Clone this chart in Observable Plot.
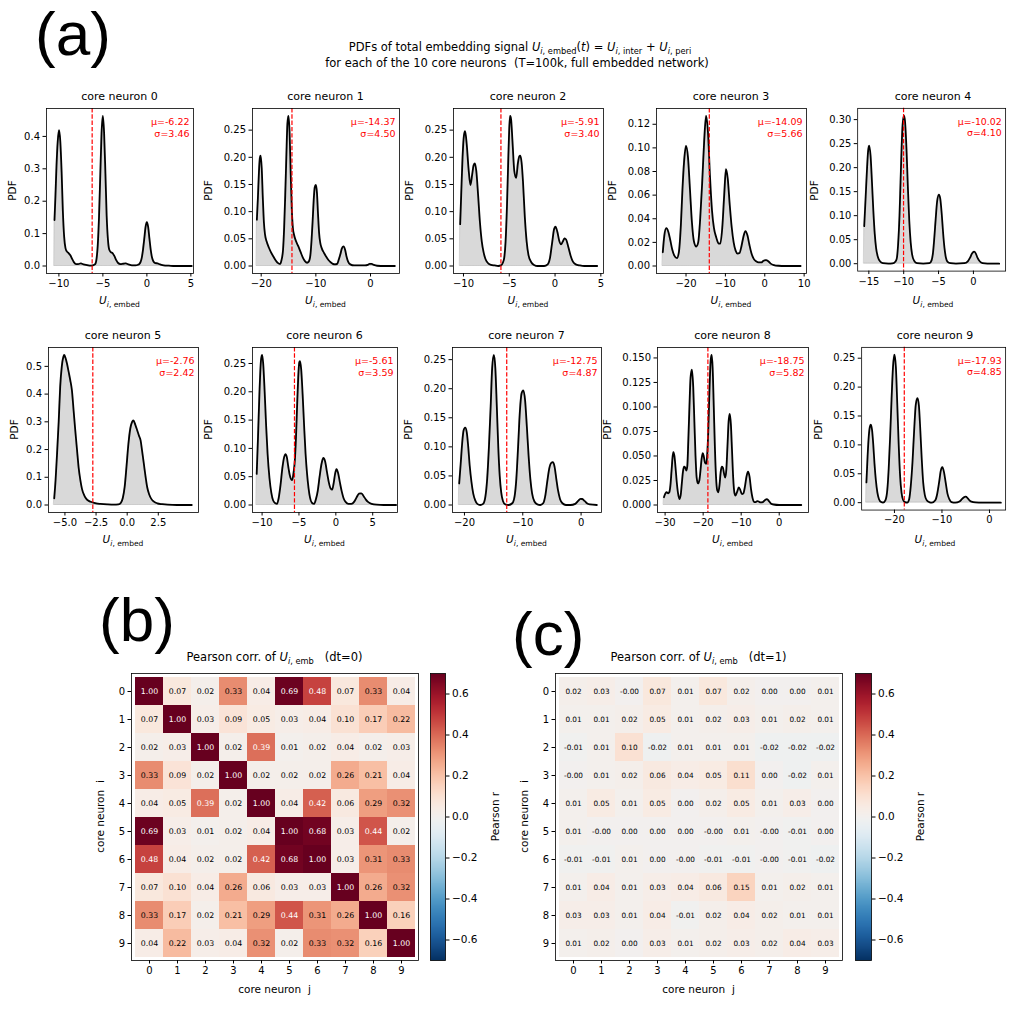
<!DOCTYPE html>
<html><head><meta charset="utf-8">
<script src="https://cdn.jsdelivr.net/npm/d3@7"></script>
<script src="https://cdn.jsdelivr.net/npm/@observablehq/plot@0.6"></script>
<style>
body{margin:0;background:#fff;}
#page{position:relative;width:1015px;height:1020px;overflow:hidden;font-family:"DejaVu Sans",sans-serif;background:#fff;}
#page > div.p{position:absolute;}
#page svg text{font-family:"DejaVu Sans",sans-serif;}
#overlay{position:absolute;left:0;top:0;pointer-events:none;overflow:visible;}
</style></head><body><div id="page"></div>
<script>
// ---------------- DATA ----------------
const neurons = [0,1,2,3,4,5,6,7,8,9];
const means  = [-6.22, -14.37, -5.91, -14.09, -10.02, -2.76, -5.61, -12.75, -18.75, -17.93];
const sigmas = [3.46, 4.50, 3.40, 5.66, 4.10, 2.42, 3.59, 4.87, 5.82, 4.85];

const pdf0 = [[-10.5,.142],[-10.4,.21],[-10.27,.31],[-10.13,.385],[-9.98,.419],[-9.84,.385],[-9.69,.29],[-9.55,.17],[-9.4,.09],[-9.25,.055],[-9.1,.045],[-8.9,.04],[-8.7,.033],[-8.5,.022],[-8.3,.012],[-8.05,.006],[-7.8,.006],[-7.5,.008],[-7.2,.005],[-6.8,.003],[-6.4,.001],[-6.15,.002],[-5.87,.006],[-5.72,.022],[-5.58,.065],[-5.44,.15],[-5.29,.285],[-5.15,.41],[-5.0,.463],[-4.86,.41],[-4.71,.285],[-4.57,.155],[-4.42,.08],[-4.27,.05],[-4.1,.043],[-3.9,.04],[-3.7,.031],[-3.5,.019],[-3.3,.01],[-3.0,.006],[-2.7,.007],[-2.4,.008],[-2.1,.005],[-1.7,.002],[-1.3,.002],[-1.0,.004],[-0.87,.006],[-0.72,.012],[-0.58,.025],[-0.44,.05],[-0.29,.085],[-0.15,.12],[0,.135],[0.15,.12],[0.29,.085],[0.44,.05],[0.58,.027],[0.75,.014],[0.95,.009],[1.2,.008],[1.5,.005],[1.9,.002],[2.5,.001],[3.2,0],[4.2,0],[5.1,0]];
const pdf1 = [[-20.79,.085],[-20.6,.125],[-20.4,.175],[-20.25,.198],[-20.1,.203],[-19.9,.18],[-19.7,.125],[-19.5,.08],[-19.3,.058],[-19.0,.045],[-18.6,.034],[-18.2,.025],[-17.8,.018],[-17.4,.011],[-17.0,.006],[-16.7,.004],[-16.5,.004],[-16.3,.01],[-16.0,.03],[-15.8,.07],[-15.6,.13],[-15.4,.2],[-15.2,.262],[-15.0,.276],[-14.8,.245],[-14.6,.17],[-14.4,.105],[-14.2,.07],[-14.0,.058],[-13.6,.045],[-13.2,.036],[-12.8,.026],[-12.4,.016],[-12.0,.009],[-11.6,.006],[-11.3,.008],[-11.0,.02],[-10.8,.045],[-10.6,.08],[-10.4,.12],[-10.2,.145],[-10.0,.149],[-9.8,.135],[-9.6,.095],[-9.4,.06],[-9.2,.043],[-8.9,.032],[-8.5,.024],[-8.1,.017],[-7.7,.011],[-7.3,.007],[-6.9,.004],[-6.5,.003],[-6.1,.004],[-5.8,.012],[-5.5,.022],[-5.25,.032],[-4.95,.036],[-4.65,.03],[-4.4,.018],[-4.1,.008],[-3.7,.003],[-3.0,.001],[-2.0,.001],[-1.0,.001],[-0.5,.002],[-0.15,.004],[0.2,.004],[0.6,.002],[1.2,.0005],[2.5,0],[4.45,0]];
const pdf2 = [[-10.36,.077],[-10.25,.13],[-10.1,.2],[-9.95,.24],[-9.82,.248],[-9.65,.225],[-9.45,.18],[-9.24,.149],[-9.05,.168],[-8.9,.185],[-8.76,.189],[-8.6,.175],[-8.4,.13],[-8.2,.08],[-8.0,.045],[-7.8,.025],[-7.6,.013],[-7.3,.005],[-7.0,.002],[-6.6,.001],[-6.2,0],[-5.9,.001],[-5.7,.006],[-5.55,.015],[-5.4,.045],[-5.25,.11],[-5.1,.2],[-4.98,.26],[-4.9,.276],[-4.8,.27],[-4.65,.23],[-4.45,.175],[-4.25,.162],[-4.05,.19],[-3.9,.202],[-3.8,.203],[-3.65,.19],[-3.5,.155],[-3.3,.09],[-3.1,.045],[-2.9,.02],[-2.6,.007],[-2.3,.002],[-1.9,0],[-1.2,0],[-0.8,.003],[-0.55,.015],[-0.3,.045],[-0.1,.068],[0.05,.0725],[0.25,.063],[0.45,.047],[0.65,.04],[0.85,.045],[1.05,.051],[1.2,.049],[1.45,.035],[1.7,.019],[1.95,.008],[2.25,.003],[2.7,.001],[3.2,0],[4.6,0]];
const pdf3 = [[-25.9,.0116],[-25.5,.026],[-25.0,.032],[-24.5,.029],[-24.0,.022],[-23.5,.014],[-23.0,.009],[-22.3,.0066],[-21.8,.012],[-21.3,.035],[-20.9,.065],[-20.5,.088],[-20.0,.1016],[-19.5,.092],[-19.0,.065],[-18.5,.037],[-18.0,.021],[-17.4,.0165],[-16.9,.02],[-16.4,.04],[-15.9,.07],[-15.4,.105],[-14.9,.127],[-14.4,.112],[-13.9,.075],[-13.4,.047],[-12.9,.032],[-12.3,.024],[-11.7,.019],[-11.3,.019],[-10.8,.032],[-10.3,.06],[-9.85,.082],[-9.4,.074],[-8.9,.052],[-8.4,.033],[-7.9,.02],[-7.4,.013],[-6.9,.0105],[-6.4,.011],[-5.9,.017],[-5.4,.025],[-4.9,.0295],[-4.4,.026],[-3.9,.018],[-3.4,.011],[-2.8,.006],[-2.2,.004],[-1.6,.003],[-0.9,.003],[-0.3,.0045],[0.3,.005],[0.9,.004],[1.5,.002],[2.3,.0008],[3.5,.0002],[5,0],[9.1,0]];
const pdf4 = [[-15.66,.078],[-15.45,.14],[-15.25,.2],[-15.1,.235],[-14.95,.246],[-14.75,.225],[-14.55,.17],[-14.35,.11],[-14.15,.062],[-13.95,.032],[-13.7,.014],[-13.4,.005],[-13.0,.001],[-12.2,0],[-11.6,.0005],[-11.2,.004],[-11.0,.01],[-10.8,.04],[-10.6,.1],[-10.45,.17],[-10.3,.24],[-10.15,.29],[-9.95,.308],[-9.8,.295],[-9.6,.24],[-9.4,.16],[-9.2,.09],[-9.0,.045],[-8.8,.02],[-8.5,.006],[-8.1,.001],[-7.2,0],[-6.3,.001],[-6.0,.007],[-5.8,.022],[-5.6,.055],[-5.4,.095],[-5.2,.13],[-4.95,.144],[-4.75,.135],[-4.55,.105],[-4.35,.065],[-4.15,.033],[-3.95,.013],[-3.7,.004],[-3.3,.001],[-2.5,0],[-1.3,.001],[-0.8,.005],[-0.5,.012],[-0.2,.021],[0.1,.025],[0.35,.021],[0.6,.012],[0.9,.005],[1.3,.001],[2,0],[3.7,0]];
const pdf5 = [[-5.86,.024],[-5.75,.09],[-5.65,.17],[-5.5,.3],[-5.38,.426],[-5.25,.5],[-5.12,.535],[-5.05,.541],[-4.95,.53],[-4.84,.511],[-4.7,.48],[-4.57,.45],[-4.44,.414],[-4.3,.34],[-4.17,.27],[-4.03,.2],[-3.9,.136],[-3.76,.09],[-3.63,.058],[-3.45,.035],[-3.28,.022],[-3.05,.014],[-2.82,.01],[-2.5,.006],[-2.15,.004],[-1.6,.002],[-1.08,.001],[-0.7,.002],[-0.5,.008],[-0.35,.025],[-0.2,.065],[-0.05,.14],[0.1,.22],[0.25,.275],[0.4,.3],[0.5,.305],[0.65,.29],[0.81,.269],[0.95,.25],[1.08,.233],[1.2,.195],[1.34,.149],[1.47,.105],[1.61,.064],[1.78,.037],[1.94,.022],[2.15,.012],[2.42,.006],[2.8,.003],[3.23,.001],[4,0],[5.19,0]];
const pdf6 = [[-10.73,.055],[-10.55,.12],[-10.35,.2],[-10.15,.255],[-10.0,.265],[-9.85,.25],[-9.65,.2],[-9.45,.14],[-9.25,.09],[-9.0,.048],[-8.75,.022],[-8.5,.008],[-8.2,.003],[-7.98,.002],[-7.75,.012],[-7.5,.035],[-7.25,.065],[-7.0,.085],[-6.83,.09],[-6.65,.085],[-6.45,.068],[-6.25,.053],[-6.05,.045],[-5.92,.044],[-5.75,.055],[-5.55,.08],[-5.4,.12],[-5.25,.175],[-5.1,.225],[-4.95,.252],[-4.86,.254],[-4.7,.24],[-4.5,.195],[-4.3,.14],[-4.1,.09],[-3.9,.055],[-3.7,.03],[-3.5,.013],[-3.25,.004],[-2.94,.002],[-2.7,.01],[-2.45,.025],[-2.2,.05],[-1.95,.072],[-1.7,.083],[-1.45,.077],[-1.2,.058],[-0.95,.04],[-0.7,.029],[-0.5,.027],[-0.3,.038],[-0.1,.055],[0.09,.0635],[0.3,.057],[0.55,.04],[0.8,.024],[1.05,.012],[1.35,.005],[1.7,.002],[2.11,.002],[2.5,.006],[2.8,.013],[3.15,.02],[3.45,.0205],[3.75,.016],[4.05,.01],[4.4,.005],[4.85,.002],[5.5,.0005],[6.5,0],[8.17,0]];
const pdf7 = [[-20.9,.037],[-20.65,.07],[-20.4,.105],[-20.15,.128],[-19.87,.133],[-19.6,.125],[-19.35,.1],[-19.1,.068],[-18.8,.04],[-18.5,.02],[-18.15,.008],[-17.8,.002],[-17.3,0],[-16.8,.002],[-16.4,.015],[-16.1,.045],[-15.8,.1],[-15.5,.17],[-15.25,.235],[-14.95,.258],[-14.7,.235],[-14.45,.17],[-14.2,.1],[-13.95,.05],[-13.7,.022],[-13.4,.007],[-13.0,.001],[-12.4,0],[-11.8,.003],[-11.4,.015],[-11.1,.045],[-10.8,.1],[-10.5,.16],[-10.2,.192],[-9.9,.197],[-9.6,.18],[-9.3,.135],[-9.0,.085],[-8.7,.045],[-8.4,.02],[-8.0,.006],[-7.5,.001],[-7.0,0],[-6.5,.003],[-6.1,.018],[-5.8,.04],[-5.45,.063],[-5.1,.0725],[-4.85,.0735],[-4.55,.066],[-4.25,.045],[-3.95,.025],[-3.6,.01],[-3.2,.003],[-2.6,0],[-1.8,0],[-1.0,.002],[-0.5,.007],[-0.1,.0105],[0.2,.0103],[0.6,.007],[1.0,.003],[1.5,.001],[2.7,0]];
const pdf8 = [[-30.3,.0079],[-30.0,.011],[-29.6,.013],[-29.2,.012],[-28.9,.013],[-28.6,.02],[-28.3,.035],[-28.0,.05],[-27.8,.054],[-27.55,.05],[-27.25,.038],[-26.95,.024],[-26.6,.012],[-26.25,.006],[-25.9,.01],[-25.6,.022],[-25.3,.034],[-25.0,.039],[-24.7,.038],[-24.4,.035],[-24.15,.04],[-23.9,.065],[-23.6,.1],[-23.3,.13],[-22.95,.138],[-22.6,.12],[-22.3,.085],[-22.0,.05],[-21.7,.028],[-21.35,.022],[-21.0,.025],[-20.7,.035],[-20.4,.047],[-20.1,.053],[-19.8,.049],[-19.5,.043],[-19.2,.042],[-18.95,.05],[-18.65,.075],[-18.35,.115],[-18.0,.148],[-17.75,.153],[-17.5,.14],[-17.2,.1],[-16.9,.058],[-16.6,.028],[-16.3,.015],[-16.0,.013],[-15.7,.02],[-15.4,.033],[-15.1,.039],[-14.8,.038],[-14.5,.032],[-14.2,.028],[-13.9,.036],[-13.6,.06],[-13.3,.085],[-13.0,.093],[-12.7,.082],[-12.4,.055],[-12.1,.028],[-11.8,.013],[-11.5,.0096],[-11.1,.013],[-10.6,.018],[-10.2,.015],[-9.8,.011],[-9.4,.012],[-9.0,.019],[-8.6,.029],[-8.2,.034],[-7.8,.029],[-7.4,.016],[-7.0,.007],[-6.6,.003],[-6.2,.003],[-5.7,.004],[-5.2,.003],[-4.8,.0027],[-4.3,.003],[-3.7,.005],[-3.2,.006],[-2.7,.004],[-2.2,.0015],[-1.5,.0005],[0,0],[5.8,0]];
const pdf9 = [[-25.9,.035],[-25.65,.08],[-25.4,.115],[-25.15,.132],[-24.95,.135],[-24.7,.125],[-24.45,.1],[-24.2,.068],[-23.9,.038],[-23.6,.018],[-23.25,.006],[-22.8,.001],[-22.4,0],[-21.9,.004],[-21.5,.022],[-21.2,.06],[-20.9,.115],[-20.6,.18],[-20.3,.235],[-20.0,.256],[-19.7,.235],[-19.4,.17],[-19.1,.1],[-18.8,.045],[-18.5,.017],[-18.2,.005],[-17.8,.001],[-17.3,0],[-16.9,.006],[-16.55,.03],[-16.2,.07],[-15.85,.125],[-15.5,.17],[-15.15,.181],[-14.85,.168],[-14.55,.125],[-14.25,.075],[-13.95,.035],[-13.6,.013],[-13.2,.004],[-12.7,.001],[-12.1,0],[-11.4,.004],[-11.0,.015],[-10.6,.035],[-10.25,.055],[-9.9,.0615],[-9.55,.052],[-9.2,.034],[-8.85,.016],[-8.45,.006],[-8.0,.001],[-7.2,0],[-6.3,.002],[-5.8,.006],[-5.35,.0095],[-5.0,.0103],[-4.6,.008],[-4.2,.004],[-3.8,.0017],[-3.0,.0003],[-1.5,0],[2.4,0]];
const pdfs = [pdf0,pdf1,pdf2,pdf3,pdf4,pdf5,pdf6,pdf7,pdf8,pdf9];

const xDomains = [[-11.41,5.3],[-21.59,5.3],[-11.09,5.29],[-27.5,10.6],[-16.6,4.62],[-6.32,5.73],[-11.3,8.36],[-22.05,3.5],[-32.0,7.7],[-26.9,3.4]];
const xTicks = [[-10,-5,0,5],[-20,-10,0],[-10,-5,0,5],[-20,-10,0,10],[-15,-10,-5,0],[-5,-2.5,0,2.5],[-10,-5,0,5],[-20,-10,0],[-30,-20,-10,0],[-20,-10,0]];
const xFormats = ["d","d","d","d","d",".1f","d","d","d","d"];
const yTicks = [[0,.1,.2,.3,.4],[0,.05,.1,.15,.2,.25],[0,.05,.1,.15,.2,.25],[0,.02,.04,.06,.08,.1,.12],[0,.05,.1,.15,.2,.25,.3],[0,.1,.2,.3,.4,.5],[0,.05,.1,.15,.2,.25],[0,.05,.1,.15,.2,.25],[0,.025,.05,.075,.1,.125,.15],[0,.05,.1,.15,.2,.25]];
const yFormats = [".1f",".2f",".2f",".2f",".2f",".1f",".2f",".2f",".3f",".2f"];

const corrDt0 = [
 [1.00,0.07,0.02,0.33,0.04,0.69,0.48,0.07,0.33,0.04],
 [0.07,1.00,0.03,0.09,0.05,0.03,0.04,0.10,0.17,0.22],
 [0.02,0.03,1.00,0.02,0.39,0.01,0.02,0.04,0.02,0.03],
 [0.33,0.09,0.02,1.00,0.02,0.02,0.02,0.26,0.21,0.04],
 [0.04,0.05,0.39,0.02,1.00,0.04,0.42,0.06,0.29,0.32],
 [0.69,0.03,0.01,0.02,0.04,1.00,0.68,0.03,0.44,0.02],
 [0.48,0.04,0.02,0.02,0.42,0.68,1.00,0.03,0.31,0.33],
 [0.07,0.10,0.04,0.26,0.06,0.03,0.03,1.00,0.26,0.32],
 [0.33,0.17,0.02,0.21,0.29,0.44,0.31,0.26,1.00,0.16],
 [0.04,0.22,0.03,0.04,0.32,0.02,0.33,0.32,0.16,1.00]];
const corrDt1 = [
 [0.02,0.03,-0.001,0.07,0.01,0.07,0.02,0.00,0.00,0.01],
 [0.01,0.01,0.02,0.05,0.01,0.02,0.03,0.01,0.02,0.01],
 [-0.01,0.01,0.10,-0.02,0.01,0.01,0.01,-0.02,-0.02,-0.02],
 [-0.001,0.01,0.02,0.06,0.04,0.05,0.11,0.00,-0.02,0.01],
 [0.01,0.05,0.01,0.05,0.00,0.02,0.05,0.01,0.03,0.00],
 [0.01,-0.001,0.00,0.00,0.00,-0.001,0.01,-0.001,-0.01,0.00],
 [-0.01,-0.01,0.01,0.00,-0.001,-0.01,-0.01,-0.001,-0.01,-0.02],
 [0.01,0.04,0.01,0.03,0.04,0.06,0.15,0.01,0.02,0.01],
 [0.03,0.03,0.01,0.04,-0.01,0.02,0.04,0.02,0.01,0.01],
 [0.01,0.02,0.00,0.03,0.01,0.02,0.03,0.02,0.04,0.03]];
const cbTicks = [-0.6,-0.4,-0.2,0,0.2,0.4,0.6];
const colorDomain = [-0.7, 0.7];

// ---------------- LAYOUT ----------------
const page = document.getElementById("page");
const baseStyle = {fontFamily:"DejaVu Sans, sans-serif", fontSize:"10px", background:"transparent", overflow:"visible", color:"black"};
function place(el, left, top) {
  const d = document.createElement("div");
  d.className = "p"; d.style.left = left + "px"; d.style.top = top + "px";
  d.appendChild(el); page.appendChild(d);
}
const boxes = [[46,108,147],[252,108,147],[453,108,150],[656,108,150],[858,108,150],
               [48,347,150],[252,347,145],[452,347,149],[657,347,151],[862,347,146]];
const boxH = 165;
const ML = 60, MR = 10, MT = 10, MB = 10;

boxes.forEach(([bl, bt, bw], k) => {
  const data = pdfs[k].map(([x, y]) => ({x, y}));
  const ymax = d3.max(data, d => d.y);
  const p = Plot.plot({
    width: bw + ML + MR, height: boxH + MT + MB,
    marginLeft: ML, marginRight: MR, marginTop: MT, marginBottom: MB,
    style: baseStyle,
    x: {domain: xDomains[k], label: null},
    y: {domain: [-0.05 * ymax, 1.05 * ymax], label: null},
    marks: [
      Plot.areaY(data, {x: "x", y: "y", fill: "gray", fillOpacity: 0.3, stroke: "gray", strokeOpacity: 0.3, strokeWidth: 1, curve: "monotone-x"}),
      Plot.lineY(data, {x: "x", y: "y", stroke: "black", strokeWidth: 1.8, curve: "monotone-x"}),
      Plot.ruleX([means[k]], {stroke: "red", strokeWidth: 1.2, strokeDasharray: "4.4,1.9"}),
      Plot.text([`μ=${means[k].toFixed(2)}\nσ=${sigmas[k].toFixed(2)}`], {frameAnchor: "top-right", dx: -4, dy: 8, textAnchor: "end", lineAnchor: "top", fill: "red", fontSize: 9.5, lineHeight: 1.25}),
      Plot.frame({stroke: "black", strokeWidth: 0.8}),
      Plot.axisX({ticks: xTicks[k], tickFormat: xFormats[k], tickSize: 3.5, tickPadding: 3, label: null, fontSize: 10}),
      Plot.axisY({ticks: yTicks[k], tickFormat: yFormats[k], tickSize: 3.5, tickPadding: 3, label: null, fontSize: 10})
    ]
  });
  place(p, bl - ML, bt - MT);
});

// heatmaps
const HS = 287, HML = 30, HMR = 5, HMT = 5, HMB = 25;
function heatmap(M, left, top, fs) {
  const cells = M.flatMap((row, i) => row.map((v, j) => ({i: neurons[i], j: neurons[j], v})));
  const p = Plot.plot({
    width: HS + HML + HMR, height: HS + HMT + HMB,
    marginLeft: HML, marginRight: HMR, marginTop: HMT, marginBottom: HMB,
    style: baseStyle,
    x: {type: "band", domain: neurons, padding: 0, label: null},
    y: {type: "band", domain: neurons, padding: 0, label: null},
    color: {type: "linear", scheme: "RdBu", reverse: true, domain: colorDomain, clamp: true},
    marks: [
      Plot.cell(cells, {x: "j", y: "i", fill: "v", shapeRendering: "crispEdges"}),
      Plot.text(cells.filter(d => Math.abs(d.v) > 0.35), {x: "j", y: "i", text: d => d.v.toFixed(2), fill: "white", fontSize: fs}),
      Plot.text(cells.filter(d => Math.abs(d.v) <= 0.35), {x: "j", y: "i", text: d => d.v.toFixed(2), fill: "black", fontSize: fs}),
      Plot.frame({stroke: "black", strokeWidth: 0.8}),
      Plot.axisX({anchor: "bottom", tickSize: 3.5, tickPadding: 3, label: null, fontSize: 10}),
      Plot.axisY({anchor: "left", tickSize: 3.5, tickPadding: 3, label: null, fontSize: 10})
    ]
  });
  place(p, left - HML, top - HMT);
}
heatmap(corrDt0, 131, 673, 7.8);
heatmap(corrDt1, 555, 673, 7.3);

// colorbars
function colorbar(left, top, w) {
  const CMT = 5, CMB = 5, CMR = 40;
  const marks = [];
  if (typeof Plot.raster === "function") {
    marks.push(Plot.raster({fill: (x, y) => y, x1: 0, x2: 1, y1: colorDomain[0], y2: colorDomain[1], width: 1, height: 300, imageRendering: "auto"}));
  }
  marks.push(Plot.frame({stroke: "black", strokeWidth: 0.8}));
  marks.push(Plot.axisY({anchor: "right", ticks: cbTicks, tickFormat: ".1f", tickSize: 3.5, tickPadding: 3, label: null, fontSize: 10.5}));
  const p = Plot.plot({
    width: w + CMR, height: HS + CMT + CMB,
    marginLeft: 0, marginRight: CMR, marginTop: CMT, marginBottom: CMB,
    style: baseStyle,
    x: {domain: [0, 1], axis: null},
    y: {domain: colorDomain, label: null},
    color: {type: "linear", scheme: "RdBu", reverse: true, domain: colorDomain, clamp: true},
    marks
  });
  place(p, left, top - CMT);
}
colorbar(430, 673, 15);
colorbar(855, 673, 16);

// ---------------- TEXT OVERLAY ----------------
const ov = d3.select(page).append("svg").attr("id", "overlay").attr("width", 1015).attr("height", 1020);
function rich(x, y, parts, size, opts = {}) {
  const t = ov.append("text").attr("x", x).attr("y", y).attr("text-anchor", opts.anchor || "middle")
    .attr("font-size", size).style("white-space", "pre").attr("fill", "black");
  if (opts.rotate) t.attr("transform", `rotate(-90,${x},${y})`);
  if (opts.family) t.style("font-family", opts.family);
  let sub = false;
  for (const p of parts) {
    const s = t.append("tspan").text(p.t);
    if (p.i) s.attr("font-style", "italic");
    if (p.sub && !sub) s.attr("dy", size * 0.28);
    if (!p.sub && sub) s.attr("dy", -size * 0.28);
    if (p.sub) s.attr("font-size", size * 0.72);
    sub = !!p.sub;
  }
  return t;
}
// panel labels
const bigFont = "Liberation Sans, Arial, sans-serif";
rich(35, 55, [{t: "(a)"}], 62, {anchor: "start", family: bigFont});
rich(99, 641, [{t: "(b)"}], 62, {anchor: "start", family: bigFont});
rich(512, 655, [{t: "(c)"}], 62, {anchor: "start", family: bigFont});
// suptitle
rich(520, 51, [{t: "PDFs of total embedding signal "}, {t: "U", i: 1}, {t: "i", i: 1, sub: 1}, {t: ", embed", sub: 1}, {t: "("}, {t: "t", i: 1}, {t: ") = "}, {t: "U", i: 1}, {t: "i", i: 1, sub: 1}, {t: ", inter", sub: 1}, {t: " + "}, {t: "U", i: 1}, {t: "i", i: 1, sub: 1}, {t: ", peri", sub: 1}], 11.5);
rich(517, 67, [{t: "for each of the 10 core neurons  (T=100k, full embedded network)"}], 11.5);

const pdfLabelOffset = {".1f": 34, ".2f": 44, ".3f": 50};
boxes.forEach(([bl, bt, bw], k) => {
  rich(bl + bw / 2, bt - 8, [{t: `core neuron ${k}`}], 11);
  rich(bl + bw / 2, bt + boxH + 31, [{t: "U", i: 1}, {t: "i", i: 1, sub: 1}, {t: ", embed", sub: 1}], 10.5);
  rich(bl - pdfLabelOffset[yFormats[k]] + 4, bt + boxH / 2, [{t: "PDF"}], 10.5, {rotate: true});
});

// heatmap titles and labels
[[131, "0"], [555, "1"]].forEach(([bl, dt]) => {
  rich(bl + HS / 2, 661, [{t: "Pearson corr. of "}, {t: "U", i: 1}, {t: "i", i: 1, sub: 1}, {t: ", emb", sub: 1}, {t: `   (dt=${dt})`}], 11.5);
  rich(bl + HS / 2, 993, [{t: "core neuron  j"}], 10.5);
  rich(bl - 27, 673 + HS / 2, [{t: "core neuron  i"}], 10.5, {rotate: true});
});
rich(499, 673 + HS / 2, [{t: "Pearson r"}], 10.5, {rotate: true});
rich(924, 673 + HS / 2, [{t: "Pearson r"}], 10.5, {rotate: true});
</script></body></html>
